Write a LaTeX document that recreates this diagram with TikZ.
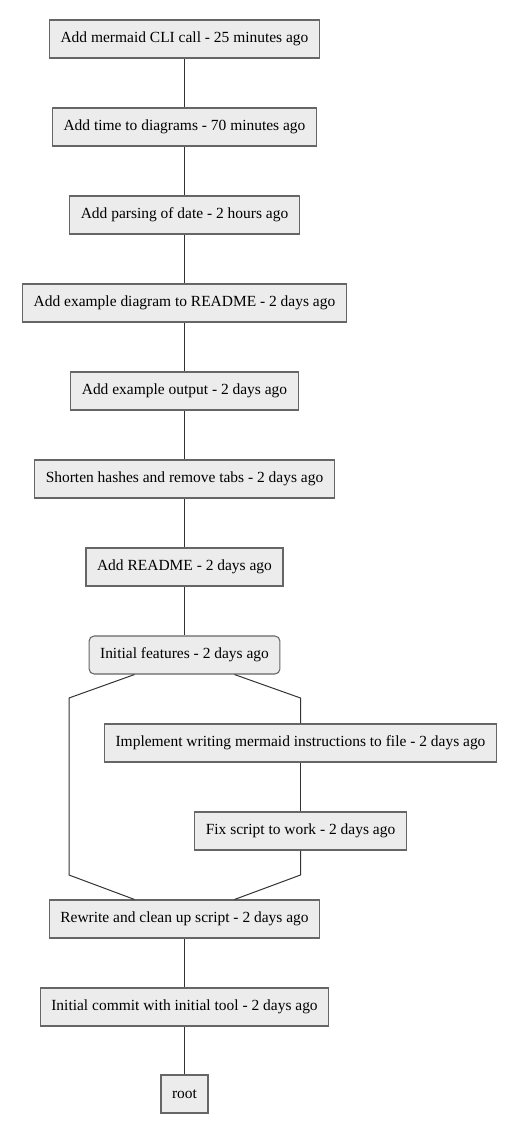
\documentclass[tikz,border=0pt]{standalone}
\usepackage{fontspec}
\setmainfont{Liberation Serif}
\usepackage{tikz}
\usetikzlibrary{positioning}

\definecolor{boxfill}{HTML}{ECECEC}
\definecolor{boxline}{HTML}{666666}
\definecolor{edgeline}{HTML}{333333}

\tikzset{
  commit/.style={draw=boxline, fill=boxfill, line width=0.8pt,
    minimum height=28.5pt, inner xsep=8.3pt, inner ysep=0pt},
  merge/.style={commit, rounded corners=3.8pt},
  edge/.style={draw=edgeline, line width=0.75pt}
}

\begin{document}
\begin{tikzpicture}[x=0.75pt, y=-0.75pt, font=\fontsize{11.6pt}{13pt}\selectfont]
  \useasboundingbox (0,0) rectangle (516,1134);
  % main line
  \node[commit] (cli)     at (184.5,39)   {Add mermaid CLI call - 25 minutes ago};
  \node[commit] (time)    at (184.5,127)  {Add time to diagrams - 70 minutes ago};
  \node[commit] (date)    at (184.5,215)  {Add parsing of date - 2 hours ago};
  \node[commit] (diag)    at (184.5,303)  {Add example diagram to README - 2 days ago};
  \node[commit] (output)  at (184.5,391)  {Add example output - 2 days ago};
  \node[commit] (hashes)  at (184.5,479)  {Shorten hashes and remove tabs - 2 days ago};
  \node[commit] (readme)  at (184.5,567)  {Add README - 2 days ago};
  \node[merge]  (feat)    at (184.5,655)  {Initial features - 2 days ago};
  % side branch
  \node[commit] (impl)    at (300.5,743)  {Implement writing mermaid instructions to file - 2 days ago};
  \node[commit] (fix)     at (300.5,831)  {Fix script to work - 2 days ago};
  \node[commit] (rewrite) at (184.5,919)  {Rewrite and clean up script - 2 days ago};
  \node[commit] (init)    at (184.5,1007) {Initial commit with initial tool - 2 days ago};
  \node[commit] (root)    at (184.5,1094) {root};

  \foreach \a/\b in {cli/time, time/date, date/diag, diag/output, output/hashes,
                     hashes/readme, readme/feat, impl/fix, rewrite/init, init/root}
    \draw[edge] (\a.south) -- (\b.north);

  % the two paths round the branch
  \draw[edge] ([xshift=-37.5pt]feat.south) -- (69,698) -- (69,875)
    -- ([xshift=-37.5pt]rewrite.north);
  \draw[edge] ([xshift=37.5pt]feat.south) -- (300.5,698) -- (impl.north);
  \draw[edge] (fix.south) -- (300.5,875) -- ([xshift=37.5pt]rewrite.north);
\end{tikzpicture}
\end{document}
